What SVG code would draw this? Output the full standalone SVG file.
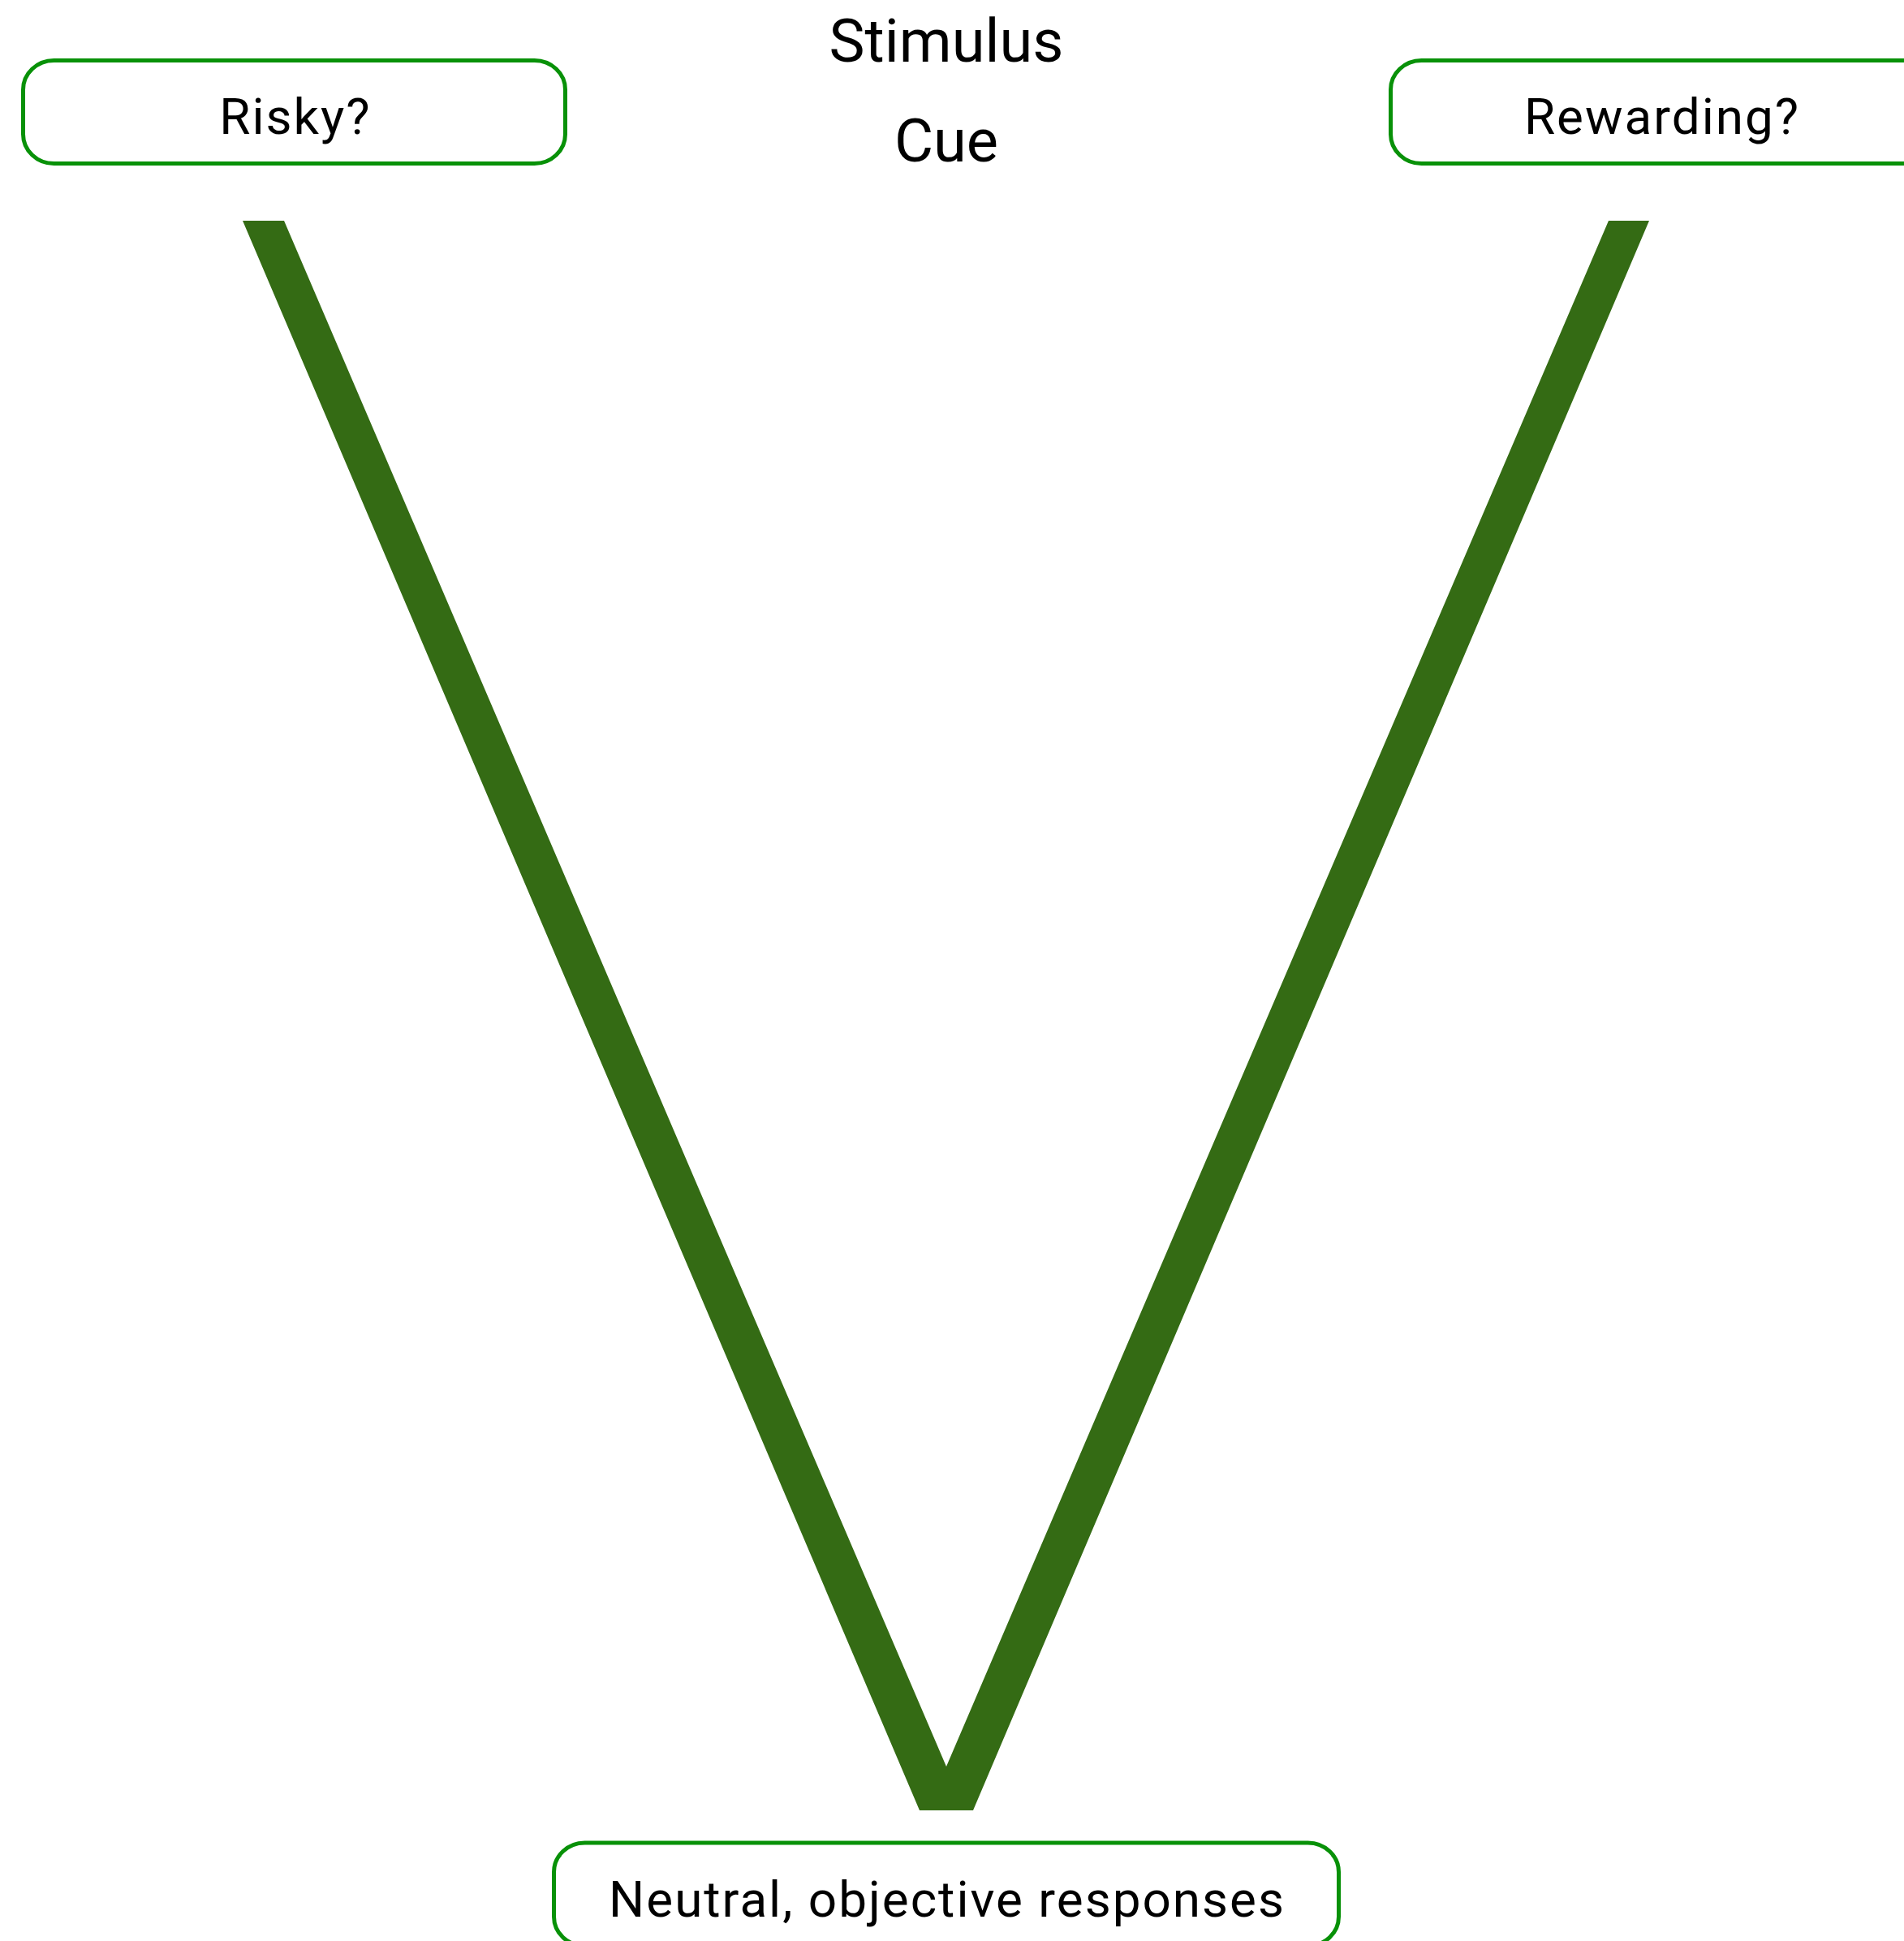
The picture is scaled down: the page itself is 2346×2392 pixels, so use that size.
<svg xmlns="http://www.w3.org/2000/svg" width="2346" height="2392" viewBox="0 0 2346 2392">
<style>
.box{fill:#ffffff;stroke:#089108;stroke-width:5}
.lbl{font-family:Roboto,"Liberation Sans",sans-serif;font-size:62px;fill:#000000;text-anchor:middle;letter-spacing:2px}
.title{font-family:Roboto,"Liberation Sans",sans-serif;font-size:74px;fill:#000000;text-anchor:middle}
.v{fill:#346b14}
</style>
<rect width="2346" height="2392" fill="#ffffff"/>
<g id="connectors">
<polygon class="v" points="299,272 350,272 1166,2177 1982,272 2032,272 1199,2231 1133,2231"/>
</g>
<g id="stimulus">
<text class="title" x="1166" y="76">Stimulus</text>
</g>
<g id="cue">
<text class="title" x="1166" y="199">Cue</text>
</g>
<g id="risky">
<rect class="box" x="28.5" y="74.5" width="668" height="127" rx="38" ry="36"/>
<text class="lbl" x="364" y="165">Risky?</text>
</g>
<g id="rewarding">
<rect class="box" x="1713.5" y="74.5" width="668" height="127" rx="38" ry="36"/>
<text class="lbl" x="2048" y="165">Rewarding?</text>
</g>
<g id="neutral">
<rect class="box" x="682.5" y="2271" width="967" height="127" rx="38" ry="36"/>
<text class="lbl" x="1167" y="2362">Neutral, objective responses</text>
</g>
</svg>
